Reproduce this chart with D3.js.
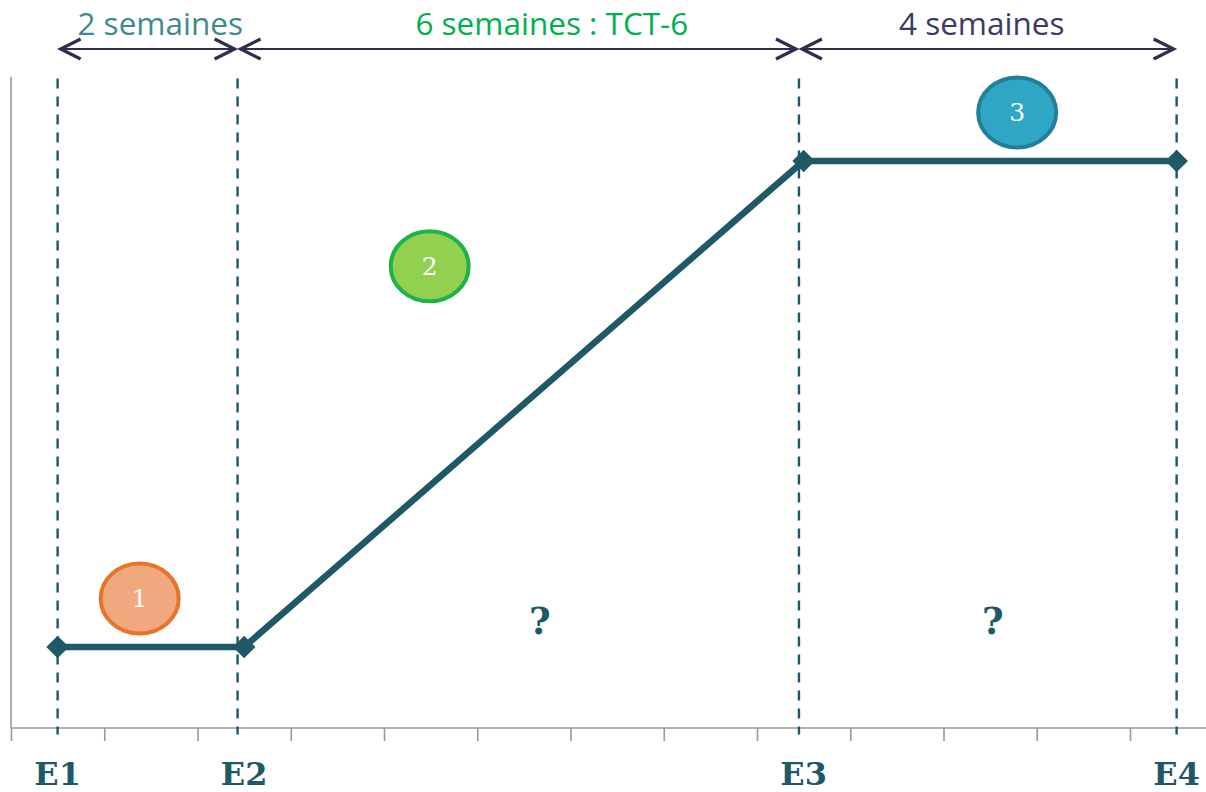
<!DOCTYPE html>
<html><head><meta charset="utf-8">
<script src="https://cdn.jsdelivr.net/npm/d3@7"></script>
<style>body{margin:0;background:#fff}svg{display:block}</style>
</head><body>
<svg id="c" width="1206" height="792"></svg>
<script>
// ---- data ----
const stageLabels = ["E1", "E2", "E3", "E4"];
const stageWeeks = [0.5, 2.5, 8.5, 12.5];        // line points / labels
const dashWeeks = [0.5, 2.43, 8.45, 12.5];       // vertical dashed guides
const levels = [1, 1, 7, 7];
const tickWeeks = d3.range(0, 13);
const periodLabels = ["2 semaines", "6 semaines : TCT-6", "4 semaines"];
const periodFrom = [0.5, 2.43, 8.45];
const periodTo = [2.43, 8.45, 12.5];
const periodLabelAt = [1.6, 5.8, 10.41];
const periodColors = ["#3f8a8c", "#00b050", "#3b3b6b"];
const phaseNums = ["1", "2", "3"];
const phaseX = [1.38, 4.49, 10.79];
const phaseY = [1.6, 5.7, 7.6];
const phaseFill = ["#f2a87e", "#92d050", "#2fa6c6"];
const phaseStroke = ["#e8732b", "#1db34a", "#237f96"];
const questionX = [5.67, 10.53];
const questionY = [1.35, 1.35];

// ---- layout ----
const svg = d3.select("#c");
const x = d3.scaleLinear().domain([0, 12]).range([11, 1130]);
const y = d3.scaleLinear().domain([0, 8]).range([728, 80]);
const dark = "#1f5866";

// axes
const xAxis = svg.append("g").attr("transform", `translate(0,${y(0)})`)
  .call(d3.axisBottom(x).tickValues(tickWeeks).tickSize(13).tickFormat("").tickSizeOuter(0));
xAxis.select(".domain").remove();
xAxis.selectAll(".tick line").attr("stroke", "#999").attr("stroke-width", 1.6);
svg.append("line").attr("x1", x(0)).attr("x2", 1206).attr("y1", y(0)).attr("y2", y(0))
  .attr("stroke", "#999").attr("stroke-width", 1.6);
svg.append("line").attr("x1", x(0)).attr("x2", x(0)).attr("y1", y(8.04)).attr("y2", y(0))
  .attr("stroke", "#999").attr("stroke-width", 1.6);

// dashed guides
svg.selectAll(".guide").data(dashWeeks).join("line").attr("class", "guide")
  .attr("x1", d => x(d)).attr("x2", d => x(d))
  .attr("y1", y(8.02)).attr("y2", y(-0.08))
  .attr("stroke", dark).attr("stroke-width", 2.4).attr("stroke-dasharray", "10,8");

// stage labels
svg.selectAll(".stage").data(stageLabels).join("text").attr("class", "stage")
  .attr("x", (d, i) => x(stageWeeks[i])).attr("y", 785)
  .attr("text-anchor", "middle").attr("fill", dark)
  .attr("font-family", "'DejaVu Serif', serif").attr("font-weight", "bold").attr("font-size", 32)
  .text(d => d);

// main line
const pts = stageWeeks.map((w, i) => [x(w), y(levels[i])]);
svg.append("path").attr("d", d3.line()(pts)).attr("fill", "none")
  .attr("stroke", dark).attr("stroke-width", 6.5).attr("stroke-linejoin", "round");
svg.selectAll(".mk").data(pts).join("path").attr("class", "mk")
  .attr("transform", d => `translate(${d[0]},${d[1]}) rotate(45)`)
  .attr("d", "M-8,-8H8V8H-8Z").attr("fill", dark);

// period arrows
const arrowY = 49;
const ag = svg.append("g");
periodLabels.forEach((lab, i) => {
  const x0 = x(periodFrom[i]) + 3, x1 = x(periodTo[i]) - 3;
  ag.append("line").attr("x1", x0).attr("x2", x1).attr("y1", arrowY).attr("y2", arrowY)
    .attr("stroke", "#2e2e4e").attr("stroke-width", 1.8);
  ag.append("path").attr("d", `M${x0 + 20},${arrowY - 10}L${x0},${arrowY}L${x0 + 20},${arrowY + 10}`)
    .attr("fill", "none").attr("stroke", "#2e2e4e").attr("stroke-width", 3.2);
  ag.append("path").attr("d", `M${x1 - 20},${arrowY - 10}L${x1},${arrowY}L${x1 - 20},${arrowY + 10}`)
    .attr("fill", "none").attr("stroke", "#2e2e4e").attr("stroke-width", 3.2);
  ag.append("text").attr("x", x(periodLabelAt[i])).attr("y", 35)
    .attr("text-anchor", "middle").attr("fill", periodColors[i])
    .attr("font-family", "'Open Sans', sans-serif").attr("font-size", 31.5).text(lab);
});

// phase badges
const bg = svg.selectAll(".badge").data(phaseNums).join("g").attr("class", "badge")
  .attr("transform", (d, i) => `translate(${x(phaseX[i])},${y(phaseY[i])})`);
bg.append("ellipse").attr("rx", 39).attr("ry", 35)
  .attr("fill", (d, i) => phaseFill[i]).attr("stroke", (d, i) => phaseStroke[i]).attr("stroke-width", 4);
bg.append("text").attr("text-anchor", "middle").attr("dy", 9).attr("fill", "#fff")
  .attr("font-family", "'DejaVu Serif', serif").attr("font-size", 25).text(d => d);

// question marks
svg.selectAll(".q").data(questionX).join("text").attr("class", "q")
  .attr("x", d => x(d)).attr("y", (d, i) => y(questionY[i]) + 15)
  .attr("text-anchor", "middle").attr("fill", dark)
  .attr("font-family", "'DejaVu Serif', serif").attr("font-weight", "bold").attr("font-size", 37)
  .text("?");
</script>
</body></html>
